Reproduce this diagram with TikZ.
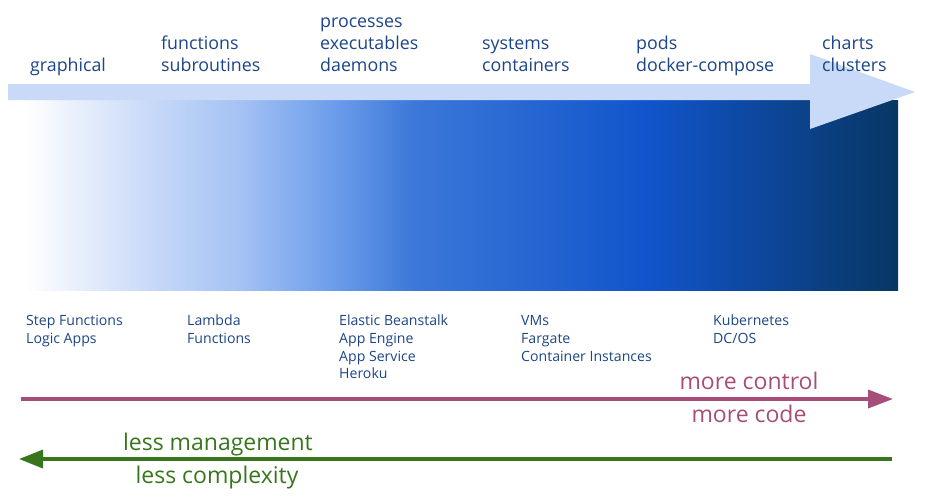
\documentclass[tikz,border=0pt]{standalone}
\usepackage{fontspec}
\setmainfont{Open Sans}
\usetikzlibrary{arrows.meta}
\definecolor{arrowlight}{HTML}{C9DAF8}
\definecolor{cA}{HTML}{C9DAF8}
\definecolor{cB}{HTML}{A4C2F4}
\definecolor{cC}{HTML}{6D9EEB}
\definecolor{cD}{HTML}{3C78D8}
\definecolor{cE}{HTML}{1155CC}
\definecolor{cF}{HTML}{073763}
\definecolor{txtblue}{HTML}{1C4587}
\definecolor{magenta}{HTML}{A64D79}
\definecolor{darkgreen}{HTML}{38761D}
\pgfdeclarehorizontalshading{barshade}{100bp}{color(0bp)=(white); color(25.9bp)=(white); color(32.87bp)=(cA); color(38.03bp)=(cB); color(43.15bp)=(cC); color(47.81bp)=(cD); color(60.79bp)=(cE); color(75bp)=(cF); color(100bp)=(cF)}
\tikzset{
  toplbl/.style={anchor=base west, inner sep=0pt, text=txtblue, font=\fontsize{17.8}{21}\selectfont},
  botlbl/.style={anchor=base west, inner sep=0pt, text=txtblue, font=\fontsize{14.1}{17}\selectfont},
  biglbl/.style={anchor=base, inner sep=0pt, font=\fontsize{23}{27}\selectfont},
  ctrlarrow/.style={draw=magenta, line width=3.5pt, -{Triangle[length=25pt,width=18pt]}},
  mgmtarrow/.style={draw=darkgreen, line width=3.5pt, -{Triangle[length=24pt,width=18pt]}}
}
\begin{document}
\begin{tikzpicture}[x=1pt,y=-1pt]
\useasboundingbox (0,0) rectangle (925,499);
% gradient bar
\shade[shading=barshade] (8,100) rectangle (898,290);
% big light arrow
\fill[arrowlight] (8,84) -- (810,84) -- (810,54) -- (915,92) -- (810,129) -- (810,100) -- (8,100) -- cycle;
% top labels
\node[toplbl] (t1a) at (30,71) {graphical};
\node[toplbl] (t2a) at (161,49) {functions};
\node[toplbl] (t2b) at (161,71) {subroutines};
\node[toplbl] (t3a) at (320,27) {processes};
\node[toplbl] (t3b) at (320,49) {executables};
\node[toplbl] (t3c) at (320,71) {daemons};
\node[toplbl] (t4a) at (482,49) {systems};
\node[toplbl] (t4b) at (482,71) {containers};
\node[toplbl] (t5a) at (636,49) {pods};
\node[toplbl] (t5b) at (636,71) {docker-compose};
\node[toplbl] (t6a) at (822,49) {charts};
\node[toplbl] (t6b) at (822,71) {clusters};
% bottom labels
\node[botlbl] (b1a) at (26,325.7) {Step Functions};
\node[botlbl] (b1b) at (26,343.4) {Logic Apps};
\node[botlbl] (b2a) at (187,325.7) {Lambda};
\node[botlbl] (b2b) at (187,343.4) {Functions};
\node[botlbl] (b3a) at (339,325.7) {Elastic Beanstalk};
\node[botlbl] (b3b) at (339,343.4) {App Engine};
\node[botlbl] (b3c) at (339,361.1) {App Service};
\node[botlbl] (b3d) at (339,378.8) {Heroku};
\node[botlbl] (b4a) at (521,325.7) {VMs};
\node[botlbl] (b4b) at (521,343.4) {Fargate};
\node[botlbl] (b4c) at (521,361.1) {Container Instances};
\node[botlbl] (b5a) at (713,325.7) {Kubernetes};
\node[botlbl] (b5b) at (713,343.4) {DC/OS};
% control arrow
\coordinate (c0) at (21,399);
\coordinate (c1) at (893,399);
\draw[ctrlarrow] (c0) -- (c1);
\node[biglbl, text=magenta] (mc1) at (749,389) {more control};
\node[biglbl, text=magenta] (mc2) at (749,422) {more code};
% management arrow
\coordinate (g0) at (892,459);
\coordinate (g1) at (19,459);
\draw[mgmtarrow] (g0) -- (g1);
\node[biglbl, text=darkgreen] (lm1) at (218,450.5) {less management};
\node[biglbl, text=darkgreen] (lm2) at (217,483) {less complexity};
\end{tikzpicture}
\end{document}
